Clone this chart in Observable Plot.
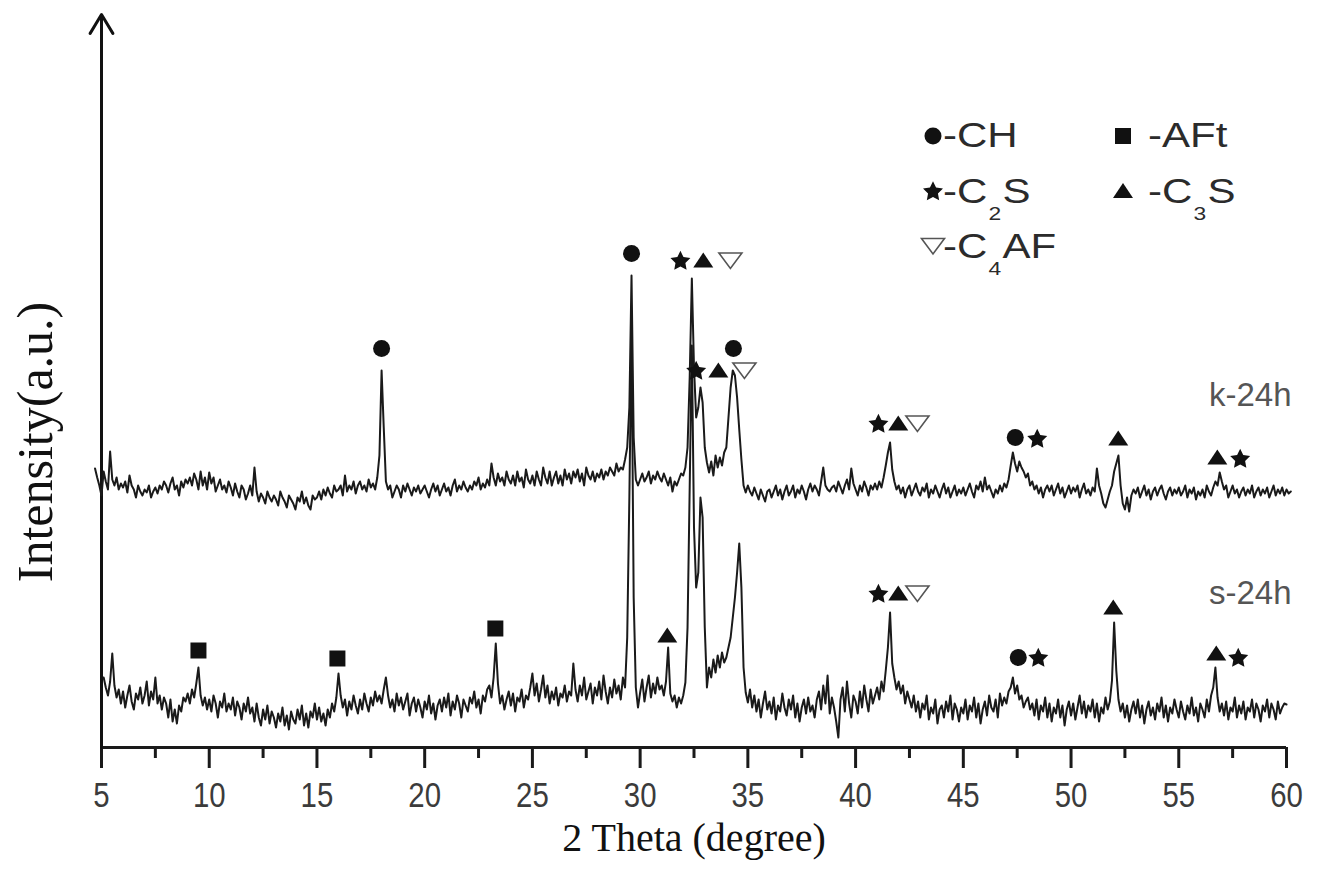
<!DOCTYPE html>
<html>
<head>
<meta charset="utf-8">
<script src="https://cdn.jsdelivr.net/npm/d3@7"></script>
<script src="https://cdn.jsdelivr.net/npm/@observablehq/plot@0.6"></script>
<style>
  html, body { margin: 0; padding: 0; background: #fff; overflow: hidden; }
  #wrap { position: relative; width: 1318px; height: 883px; background: #fff; }
  .leg-text { position: absolute; font-family: "Liberation Sans", Arial, sans-serif; font-size: 35px; line-height: 1; color: #2b2b2b; white-space: nowrap; transform: scaleX(1.2); transform-origin: left center; }
  .leg-text sub { font-size: 19px; vertical-align: -17px; line-height: 0; margin: 0 1px; }
  .leg-sym { position: absolute; width: 30px; height: 30px; overflow: visible; }
</style>
</head>
<body>
<div id="wrap"></div>
<script>
// ---------------- DATA ----------------
// Scan grid: 0.1 degree steps
const scanStep = 0.1;
const kStart = 4.7;
const sStart = 5.1;

// k-24h intensities (a.u.), one row per degree
const kRows = [
  [279, 270, 262],                                        // 4.7-4.9
  [252, 276, 266, 258, 296, 268, 262, 270, 258, 264],     // 5
  [260, 266, 255, 272, 262, 258, 250, 262, 256, 252],     // 6
  [258, 255, 262, 250, 256, 260, 254, 262, 258, 266],     // 7
  [262, 255, 264, 270, 258, 262, 252, 266, 260, 268],     // 8
  [264, 270, 262, 274, 268, 258, 276, 262, 270, 258],     // 9
  [275, 264, 270, 256, 262, 268, 258, 262, 255, 266],     // 10
  [260, 252, 264, 256, 250, 262, 258, 248, 254, 262],     // 11
  [252, 280, 256, 246, 254, 250, 244, 256, 250, 246],     // 12
  [252, 248, 242, 256, 250, 246, 240, 252, 248, 244],     // 13
  [238, 250, 246, 256, 244, 250, 242, 238, 252, 248],     // 14
  [250, 256, 248, 258, 252, 260, 254, 250, 262, 256],     // 15
  [258, 262, 252, 272, 256, 262, 258, 266, 254, 262],     // 16
  [266, 258, 262, 256, 268, 260, 264, 258, 270, 292],     // 17
  [377, 320, 266, 258, 262, 250, 256, 262, 258, 250],     // 18
  [262, 256, 264, 258, 252, 260, 256, 262, 254, 258],     // 19
  [262, 256, 250, 258, 264, 256, 262, 252, 258, 264],     // 20
  [256, 260, 252, 262, 268, 256, 262, 258, 266, 260],     // 21
  [256, 262, 258, 266, 262, 270, 258, 264, 260, 268],     // 22
  [262, 284, 270, 262, 274, 266, 270, 262, 276, 268],     // 23
  [264, 272, 262, 276, 266, 270, 260, 278, 268, 264],     // 24
  [272, 262, 276, 268, 262, 280, 270, 264, 276, 262],     // 25
  [270, 276, 264, 272, 262, 278, 268, 274, 264, 276],     // 26
  [270, 278, 266, 274, 262, 280, 272, 268, 276, 266],     // 27
  [274, 270, 278, 268, 276, 272, 280, 276, 272, 284],     // 28
  [276, 280, 278, 288, 300, 340, 472, 310, 268, 262],     // 29
  [268, 274, 266, 270, 276, 264, 272, 268, 276, 270],     // 30
  [266, 274, 268, 262, 270, 256, 266, 262, 268, 274],     // 31
  [272, 280, 300, 370, 469, 380, 330, 340, 360, 345],     // 32
  [300, 285, 275, 286, 272, 292, 280, 290, 282, 295],     // 33
  [300, 330, 360, 377, 372, 350, 318, 288, 262, 255],     // 34
  [262, 256, 252, 260, 254, 248, 258, 252, 246, 256],     // 35
  [258, 250, 256, 262, 252, 258, 248, 256, 262, 252],     // 36
  [256, 262, 250, 258, 254, 262, 256, 248, 258, 264],     // 37
  [256, 262, 258, 252, 266, 280, 262, 258, 256, 260],     // 38
  [262, 256, 266, 260, 254, 262, 268, 258, 279, 264],     // 39
  [258, 252, 262, 256, 266, 260, 252, 262, 258, 264],     // 40
  [258, 266, 260, 270, 282, 295, 305, 278, 266, 258],     // 41
  [262, 254, 260, 250, 258, 262, 252, 258, 264, 256],     // 42
  [252, 260, 256, 264, 250, 258, 254, 262, 256, 250],     // 43
  [258, 264, 254, 260, 250, 256, 262, 252, 258, 254],     // 44
  [260, 252, 258, 264, 256, 250, 262, 258, 266, 256],     // 45
  [270, 258, 262, 256, 250, 258, 254, 262, 256, 264],     // 46
  [260, 268, 282, 295, 284, 276, 286, 280, 276, 270],     // 47
  [274, 262, 266, 258, 262, 254, 260, 250, 258, 262],     // 48
  [256, 262, 252, 258, 264, 254, 260, 250, 256, 262],     // 49
  [254, 260, 256, 262, 250, 258, 264, 254, 258, 252],     // 50
  [260, 256, 279, 262, 254, 244, 240, 248, 256, 262],     // 51
  [276, 284, 292, 262, 244, 238, 250, 236, 252, 258],     // 52
  [254, 260, 250, 256, 262, 252, 258, 248, 256, 260],     // 53
  [252, 258, 262, 254, 248, 256, 260, 252, 258, 254],     // 54
  [260, 252, 256, 262, 250, 258, 254, 260, 248, 256],     // 55
  [252, 258, 250, 262, 256, 252, 260, 266, 262, 275],     // 56
  [266, 258, 262, 250, 256, 262, 254, 258, 250, 256],     // 57
  [260, 252, 258, 254, 262, 250, 256, 260, 252, 258],     // 58
  [254, 260, 250, 256, 262, 252, 258, 254, 260, 252],     // 59
  [258, 254, 256]                                         // 60.0-60.2
];

// s-24h intensities (a.u.), one row per degree
const sRows = [
  [70, 60, 52, 66, 94, 62, 50, 58, 44],                   // 5.1-5.9
  [56, 40, 52, 62, 46, 38, 54, 48, 60, 44],               // 6
  [52, 66, 42, 56, 48, 70, 44, 52, 38, 50],               // 7
  [44, 30, 48, 26, 38, 24, 42, 36, 50, 46],               // 8
  [54, 44, 58, 50, 64, 80, 52, 42, 50, 38],               // 9
  [48, 36, 52, 44, 30, 46, 40, 54, 36, 44],               // 10
  [38, 50, 32, 46, 40, 28, 44, 36, 50, 34],               // 11
  [40, 26, 44, 30, 22, 38, 28, 42, 24, 36],               // 12
  [30, 20, 34, 26, 40, 22, 32, 18, 36, 28],               // 13
  [24, 38, 28, 42, 22, 34, 20, 36, 30, 44],               // 14
  [28, 40, 26, 34, 22, 38, 30, 44, 36, 50],               // 15
  [74, 52, 40, 48, 32, 46, 38, 52, 42, 34],               // 16
  [48, 38, 54, 44, 36, 50, 42, 56, 46, 52],               // 17
  [44, 58, 70, 52, 40, 48, 36, 54, 42, 50],               // 18
  [38, 46, 54, 32, 44, 50, 36, 48, 40, 30],               // 19
  [46, 38, 52, 34, 44, 28, 42, 48, 36, 50],               // 20
  [40, 54, 32, 46, 38, 52, 44, 30, 48, 42],               // 21
  [36, 50, 44, 56, 40, 48, 34, 52, 46, 58],               // 22
  [62, 50, 70, 104, 64, 44, 52, 38, 48, 56],              // 23
  [42, 54, 36, 50, 46, 58, 40, 52, 48, 60],               // 24
  [74, 52, 64, 46, 58, 72, 50, 62, 44, 56],               // 25
  [48, 60, 42, 54, 50, 62, 46, 56, 52, 84],               // 26
  [58, 46, 62, 52, 70, 48, 56, 64, 44, 60],               // 27
  [52, 66, 48, 72, 56, 44, 60, 50, 68, 54],               // 28
  [62, 48, 70, 60, 110, 250, 417, 150, 60, 40],           // 29
  [55, 68, 46, 60, 72, 50, 64, 54, 70, 58],               // 30
  [62, 52, 66, 100, 54, 46, 52, 40, 50, 44],              // 31
  [52, 65, 120, 260, 402, 220, 160, 175, 250, 230],       // 32
  [120, 60, 80, 70, 88, 75, 92, 80, 95, 85],              // 33
  [90, 100, 110, 130, 150, 175, 204, 160, 80, 55],        // 34
  [45, 58, 40, 52, 36, 48, 30, 44, 56, 38],               // 35
  [46, 34, 50, 28, 42, 36, 54, 40, 32, 48],               // 36
  [38, 52, 30, 44, 26, 40, 48, 34, 50, 36],               // 37
  [42, 30, 48, 56, 38, 62, 44, 72, 34, 50],               // 38
  [40, 26, 10, 48, 60, 36, 66, 44, 30, 52],               // 39
  [46, 34, 56, 40, 62, 48, 36, 58, 44, 52],               // 40
  [60, 48, 66, 56, 77, 100, 135, 84, 70, 58],             // 41
  [66, 54, 62, 44, 56, 48, 40, 52, 36, 46],               // 42
  [30, 44, 38, 52, 28, 40, 34, 48, 24, 38],               // 43
  [42, 30, 46, 36, 52, 28, 44, 38, 26, 40],               // 44
  [34, 48, 28, 42, 36, 50, 30, 44, 24, 38],               // 45
  [46, 32, 52, 40, 36, 48, 30, 54, 42, 50],               // 46
  [44, 56, 60, 70, 54, 62, 48, 52, 40, 46],               // 47
  [50, 38, 44, 32, 48, 28, 42, 36, 50, 30],               // 48
  [44, 26, 40, 34, 48, 30, 42, 22, 38, 46],               // 49
  [32, 44, 28, 40, 52, 34, 46, 30, 42, 36],               // 50
  [48, 30, 44, 26, 40, 34, 50, 38, 46, 67],               // 51
  [125, 77, 48, 36, 44, 30, 42, 26, 38, 46],              // 52
  [34, 48, 30, 42, 24, 38, 46, 32, 40, 28],               // 53
  [44, 36, 50, 30, 42, 26, 40, 34, 48, 38],               // 54
  [30, 46, 36, 28, 42, 34, 50, 32, 40, 26],               // 55
  [44, 38, 30, 48, 36, 52, 60, 80, 50, 36],               // 56
  [44, 32, 46, 28, 40, 36, 50, 30, 42, 34],               // 57
  [46, 28, 40, 36, 48, 30, 44, 38, 26, 42],               // 58
  [36, 48, 30, 44, 38, 28, 46, 34, 40, 44],               // 59
  [43]                                                    // 60.0
];

// Phase markers [2theta, intensity position]
const circleMarks   = [[18.0, 399], [29.6, 494], [34.33, 399], [47.41, 310], [47.55, 90]];
const starMarks     = [[31.87, 487], [32.6, 377], [41.06, 324], [48.43, 309], [57.85, 289],
                       [41.06, 154], [48.48, 90], [57.76, 90]];
const triangleMarks = [[32.93, 487], [33.63, 377], [41.98, 324], [52.19, 309], [56.79, 290],
                       [31.26, 112], [41.98, 154], [51.96, 140], [56.74, 94]];
const downTriMarks  = [[34.19, 487], [34.84, 377], [42.87, 324], [42.87, 154]];
const squareMarks   = [[9.5, 97], [15.95, 89], [23.28, 119]];

// Series labels
const seriesNames = ["k-24h", "s-24h"];
const seriesLabelPos = [[60, 342], [60, 144]];

// Axis ticks
const majorTicks = [5, 10, 15, 20, 25, 30, 35, 40, 45, 50, 55, 60];
const minorTicks = [7.5, 12.5, 17.5, 22.5, 27.5, 32.5, 37.5, 42.5, 47.5, 52.5, 57.5];

// Legend entries (phase names)
const legendEntries = [
  {symbol: "circle",   name: "-CH"},
  {symbol: "square",   name: "-AFt"},
  {symbol: "star",     name: "-C<sub>2</sub>S"},
  {symbol: "triangle", name: "-C<sub>3</sub>S"},
  {symbol: "down",     name: "-C<sub>4</sub>AF"}
];

const xLabel = "2 Theta (degree)";
const yLabel = "Intensity(a.u.)";

// ---------------- BUILD ----------------
const kData = kRows.flat().map((v, i) => ({theta: +(kStart + i * scanStep).toFixed(2), I: v}));
const sData = sRows.flat().map((v, i) => ({theta: +(sStart + i * scanStep).toFixed(2), I: v}));
const labels = seriesNames.map((n, i) => ({name: n, theta: seriesLabelPos[i][0], I: seriesLabelPos[i][1]}));

const triUp = {draw(ctx) { ctx.moveTo(0, -8); ctx.lineTo(10, 7); ctx.lineTo(-10, 7); ctx.closePath(); }};
const triDown = {draw(ctx) { ctx.moveTo(-11.5, -7.5); ctx.lineTo(11.5, -7.5); ctx.lineTo(0, 8); ctx.closePath(); }};
const sq = {draw(ctx) { ctx.rect(-8, -8, 16, 16); }};
const fatStar = {draw(ctx) {
  const R = 10.5, r = 5.2;
  for (let i = 0; i < 10; i++) {
    const a = -Math.PI / 2 + i * Math.PI / 5, rad = i % 2 ? r : R;
    const x = Math.cos(a) * rad, y = Math.sin(a) * rad + 0.8;
    if (i === 0) ctx.moveTo(x, y); else ctx.lineTo(x, y);
  }
  ctx.closePath();
}};

const sansNarrow = '"Liberation Sans Narrow", "Arial Narrow", "Liberation Sans", Arial, sans-serif';
const serif = '"Liberation Serif", "Times New Roman", serif';
const ink = "#1a1a1a";

const px = d => d[0], py = d => d[1];

const chart = Plot.plot({
  width: 1318,
  height: 883,
  marginLeft: 101,
  marginRight: 32,
  marginTop: 12,
  marginBottom: 136,
  x: {domain: [5, 60], label: null},
  y: {domain: [0, 735], axis: null, label: null},
  style: {background: "#fff", overflow: "visible"},
  marks: [
    Plot.axisX({ticks: minorTicks, tickSize: 11, tickFormat: () => "", label: null, stroke: ink, strokeWidth: 3}),
    Plot.axisX({ticks: majorTicks, tickSize: 21, tickPadding: 14, tickFormat: d => String(d), label: null,
                stroke: ink, strokeWidth: 3, fontSize: 35, fontFamily: sansNarrow, fill: "#3b3b3b"}),
    Plot.ruleY([0], {stroke: ink, strokeWidth: 3}),
    Plot.arrow([{x1: 5, y1: 0, x2: 5, y2: 733}], {x1: d => d.x1, y1: d => d.y1, x2: d => d.x2, y2: d => d.y2,
                stroke: "#111", strokeWidth: 3, headLength: 11, headAngle: 62}),
    Plot.line(sData, {x: "theta", y: "I", stroke: "#1a1a1a", strokeWidth: 2, strokeLinejoin: "round"}),
    Plot.line(kData, {x: "theta", y: "I", stroke: "#1a1a1a", strokeWidth: 2, strokeLinejoin: "round"}),
    Plot.dot(circleMarks, {x: px, y: py, r: 8.5, symbol: "circle", fill: "#111", stroke: "none"}),
    Plot.dot(starMarks, {x: px, y: py, symbol: fatStar, fill: "#111", stroke: "none"}),
    Plot.dot(triangleMarks, {x: px, y: py, symbol: triUp, fill: "#111", stroke: "none"}),
    Plot.dot(downTriMarks, {x: px, y: py, symbol: triDown, fill: "#fff", stroke: "#555", strokeWidth: 1.6}),
    Plot.dot(squareMarks, {x: px, y: py, symbol: sq, fill: "#111", stroke: "none"}),
    Plot.text(labels, {x: "theta", y: "I", text: "name", textAnchor: "end", lineAnchor: "bottom", dx: 5,
                       fontSize: 33, fontFamily: '"Liberation Sans", Arial, sans-serif', fill: "#555", ariaLabel: "series-label"}),
    Plot.text([xLabel], {text: d => d, frameAnchor: "bottom", textAnchor: "middle", lineAnchor: "bottom", dy: 103,
                         fontSize: 40, fontFamily: serif, fill: "#111"}),
    Plot.text([yLabel], {text: d => d, frameAnchor: "left", textAnchor: "middle", lineAnchor: "bottom", rotate: -90, dx: -50, dy: 62,
                         fontSize: 50, fontFamily: serif, fill: "#111"})
  ]
});

const wrap = document.getElementById("wrap");
wrap.appendChild(chart);

// style tweaks
const svg = d3.select(chart);
svg.selectAll('g[aria-label="x-axis tick label"] text')
   .attr("fill", "#3b3b3b").style("font-family", sansNarrow).style("font-size", "35px")
   .each(function() {
     const t = this.getAttribute("transform") || "";
     this.setAttribute("transform", t + " scale(0.84,1)");
   });
svg.selectAll('g[aria-label="series-label"] text').style("letter-spacing", "5px");

// ---------------- LEGEND (HTML overlay) ----------------
const pathOf = sym => { const p = d3.path(); sym.draw(p); return p.toString(); };
const symPath = {
  circle: () => d3.symbol(d3.symbolCircle, Math.PI * 8.5 * 8.5)(),
  star: () => pathOf(fatStar),
  square: () => pathOf(sq),
  triangle: () => pathOf(triUp),
  down: () => pathOf(triDown)
};
const colSym = [933, 1123], colText = [943, 1148];
legendEntries.forEach((e, i) => {
  const col = i % 2, row = Math.floor(i / 2);
  const cy = 136 + row * 55, base = 147 + row * 55.5;
  const s = d3.select(wrap).append("svg").attr("class", "leg-sym")
    .style("left", (colSym[col] - 15) + "px").style("top", (cy - 15) + "px");
  s.append("path").attr("transform", "translate(15,15)").attr("d", symPath[e.symbol]())
    .attr("fill", e.symbol === "down" ? "#fff" : "#111")
    .attr("stroke", e.symbol === "down" ? "#555" : "none").attr("stroke-width", 1.6);
  d3.select(wrap).append("div").attr("class", "leg-text")
    .style("left", colText[col] + "px").style("top", (base - 30) + "px")
    .html(e.name);
});
</script>
</body>
</html>
